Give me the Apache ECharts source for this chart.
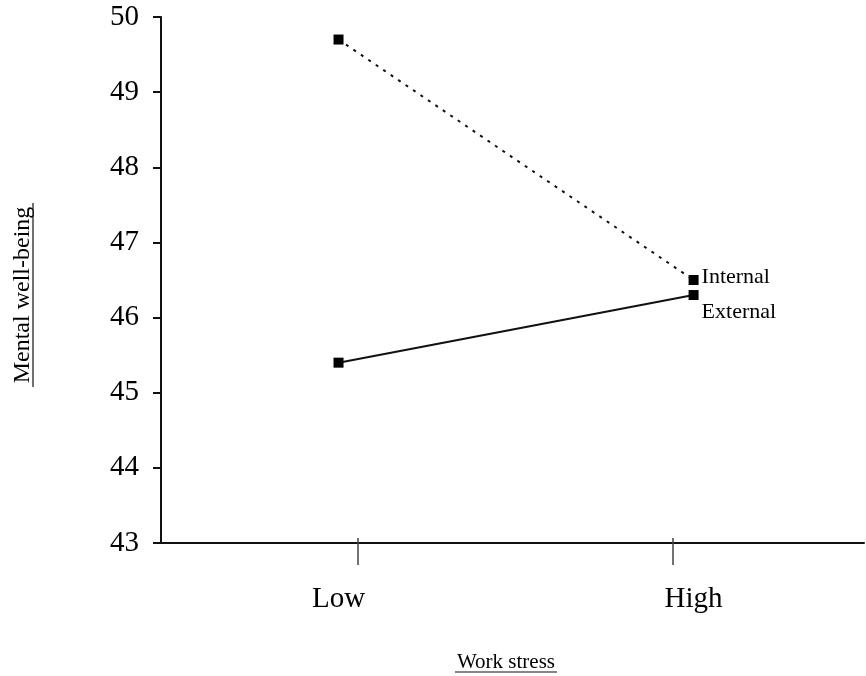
<!DOCTYPE html>
<html>
<head>
<meta charset="utf-8">
<script src="https://cdn.jsdelivr.net/npm/echarts@6/dist/echarts.min.js"></script>
<style>
  html, body { margin: 0; padding: 0; background: #fff; }
  #chart { width: 866px; height: 676px; }
</style>
</head>
<body>
<div id="chart"></div>
<script>
// data
var categories = ["Low", "High"];
var xPos = [1, 2];                // where the points sit on the x scale
var tickPos = [1.055, 1.942];     // x ticks are a bit off the points in the original
var internal = [49.7, 46.5];
var external = [45.4, 46.3];
var yTicks = [43, 44, 45, 46, 47, 48, 49, 50];

var serif = "'Liberation Serif', 'Times New Roman', serif";

function pairs(ys) {
  return xPos.map(function (x, i) { return [x, ys[i]]; });
}

var chart = echarts.init(document.getElementById("chart"));

chart.setOption({
  backgroundColor: "#fff",
  animation: false,
  grid: { left: 161, right: 2, top: 17, bottom: 133 },
  xAxis: [
    {
      type: "value",
      min: 0.5,
      max: 2.48,
      splitLine: { show: false },
      axisLine: { show: true, lineStyle: { color: "#111", width: 2 } },
      axisTick: {
        show: true,
        customValues: tickPos,
        length: 22,
        lineStyle: { color: "#444", width: 1.5 }
      },
      axisLabel: {
        customValues: xPos,
        margin: 42,
        fontFamily: serif,
        fontSize: 29,
        color: "#000",
        formatter: function (v) {
          var i = xPos.indexOf(v);
          return i >= 0 ? categories[i] : "";
        }
      }
    },
    {
      // only draws the little bit of tick above the axis line
      type: "value",
      min: 0.5,
      max: 2.48,
      position: "bottom",
      splitLine: { show: false },
      axisLine: { show: false },
      axisTick: {
        show: true,
        inside: true,
        customValues: tickPos,
        length: 5,
        lineStyle: { color: "#444", width: 1.5 }
      },
      axisLabel: { show: false }
    }
  ],
  yAxis: {
    type: "value",
    min: yTicks[0],
    max: yTicks[yTicks.length - 1],
    interval: 1,
    splitLine: { show: false },
    axisLine: { show: true, lineStyle: { color: "#111", width: 2 } },
    axisTick: { show: true, length: 8, lineStyle: { color: "#111", width: 2 } },
    axisLabel: {
      margin: 22,
      fontFamily: serif,
      fontSize: 29,
      color: "#000"
    }
  },
  series: [
    {
      name: "Internal",
      type: "line",
      data: pairs(internal),
      symbol: "rect",
      symbolSize: 10,
      itemStyle: { color: "#000" },
      lineStyle: { color: "#111", width: 2, type: [3, 6] },
      endLabel: {
        show: true,
        formatter: "{a}",
        distance: 8,
        offset: [0, -3],
        fontFamily: serif,
        fontSize: 22,
        color: "#000"
      }
    },
    {
      name: "External",
      type: "line",
      data: pairs(external),
      symbol: "rect",
      symbolSize: 10,
      itemStyle: { color: "#000" },
      lineStyle: { color: "#111", width: 2 },
      endLabel: {
        show: true,
        formatter: "{a}",
        distance: 8,
        offset: [0, 17],
        fontFamily: serif,
        fontSize: 22,
        color: "#000"
      }
    }
  ],
  graphic: [
    {
      type: "group",
      x: 23,
      y: 295,
      rotation: Math.PI / 2,
      children: [
        {
          type: "text",
          style: {
            text: "Mental well-being",
            x: 0, y: 0,
            align: "center",
            verticalAlign: "middle",
            font: "24px " + serif,
            fill: "#000"
          }
        },
        {
          type: "line",
          shape: { x1: -92, y1: 10, x2: 92, y2: 10 },
          style: { stroke: "#111", lineWidth: 1.2 }
        }
      ]
    },
    {
      type: "group",
      x: 506,
      y: 662,
      children: [
        {
          type: "text",
          style: {
            text: "Work stress",
            x: 0, y: 0,
            align: "center",
            verticalAlign: "middle",
            font: "21px " + serif,
            fill: "#000"
          }
        },
        {
          type: "line",
          shape: { x1: -51, y1: 10, x2: 51, y2: 10 },
          style: { stroke: "#111", lineWidth: 1.2 }
        }
      ]
    }
  ]
});
</script>
</body>
</html>
